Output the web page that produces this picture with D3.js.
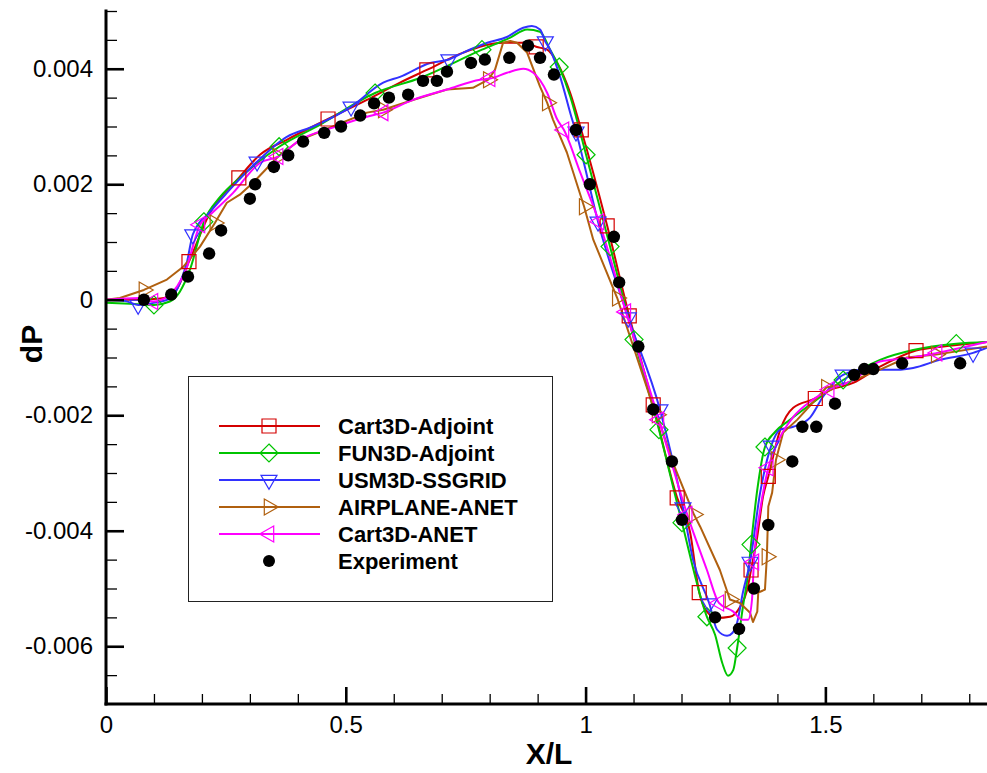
<!DOCTYPE html>
<html>
<head>
<meta charset="utf-8">
<script src="https://cdn.jsdelivr.net/npm/d3@7"></script>
<style>
  body { margin: 0; background: #ffffff; }
  svg { display: block; }
  text { font-family: "Liberation Sans", Arial, Helvetica, sans-serif; }
</style>
</head>
<body>
<svg id="chart" width="987" height="773"></svg>
<script>
// ---- Pressure signature data: dP versus X/L ----

// Wind-tunnel measurements
const expX = [0.079, 0.136, 0.171, 0.215, 0.240, 0.300, 0.311, 0.350, 0.380, 0.411, 0.455, 0.490,
  0.530, 0.559, 0.590, 0.630, 0.661, 0.690, 0.711, 0.761, 0.790, 0.841, 0.880, 0.905, 0.934,
  0.980, 1.009, 1.059, 1.070, 1.110, 1.141, 1.180, 1.201, 1.270, 1.320, 1.351, 1.381, 1.431,
  1.452, 1.481, 1.520, 1.560, 1.581, 1.600, 1.660, 1.781];
const expY = [0.0000, 0.00009, 0.0004, 0.0008, 0.0012, 0.00175, 0.0020, 0.0023, 0.0025, 0.00274,
  0.00289, 0.0030, 0.00319, 0.0034, 0.0035, 0.00355, 0.00379, 0.00379, 0.00395, 0.0041, 0.00416,
  0.00419, 0.0044, 0.00419, 0.0039, 0.00294, 0.0020, 0.00109, 0.0003, -0.00081, -0.0019, -0.0028,
  -0.00381, -0.0055, -0.0057, -0.0050, -0.0039, -0.0028, -0.0022, -0.0022, -0.0018, -0.0013,
  -0.0012, -0.0012, -0.0011, -0.0011];

// Cart3D-Adjoint
const cart3dAdjointLine = [[0, 0], [0.071, 0], [0.113, 0.00002], [0.144, 0.00014], [0.217, 0.00151],
  [0.321, 0.00251], [0.377, 0.00277], [0.544, 0.00346], [0.613, 0.00376], [0.745, 0.00428],
  [0.828, 0.00445], [0.878, 0.00445], [0.920, 0.00433], [0.941, 0.00410], [0.968, 0.00358],
  [1.218, -0.00403], [1.253, -0.00540], [1.274, -0.00551], [1.301, -0.00549], [1.322, -0.00532],
  [1.337, -0.00502], [1.358, -0.00410], [1.370, -0.00341], [1.406, -0.00225], [1.433, -0.00187],
  [1.510, -0.00156], [1.558, -0.00144], [1.614, -0.00116], [1.754, -0.00080], [1.837, -0.00073]];
const cart3dAdjointSymbols = [[0.173, 0.00066], [0.277, 0.00211], [0.463, 0.00313], [0.669, 0.00398],
  [0.897, 0.00438], [0.991, 0.00294], [1.045, 0.00128], [1.091, -0.00028], [1.141, -0.00182],
  [1.191, -0.00343], [1.237, -0.00507], [1.345, -0.00468], [1.381, -0.00306], [1.479, -0.00171],
  [1.689, -0.00088]];

// FUN3D-Adjoint
const fun3dAdjointLine = [[0, -0.00005], [0.050, -0.00007], [0.133, -0.00003], [0.154, 0.00014],
  [0.175, 0.00052], [0.238, 0.00178], [0.279, 0.00211], [0.446, 0.00303], [0.655, 0.00384],
  [0.843, 0.00454], [0.878, 0.00468], [0.905, 0.00464], [0.926, 0.00433], [0.968, 0.00352],
  [0.989, 0.00289], [1.270, -0.00580], [1.285, -0.00629], [1.297, -0.00651], [1.308, -0.00641],
  [1.328, -0.00532], [1.339, -0.00473], [1.358, -0.00329], [1.395, -0.00229], [1.426, -0.00208],
  [1.474, -0.00178], [1.614, -0.00104], [1.683, -0.00087], [1.837, -0.00073]];
const fun3dAdjointSymbols = [[0.100, -0.00009], [0.204, 0.00135], [0.361, 0.00265], [0.561, 0.00358],
  [0.784, 0.00433], [0.945, 0.00403], [1.001, 0.00251], [1.051, 0.00092], [1.101, -0.00069],
  [1.153, -0.00225], [1.201, -0.00386], [1.253, -0.00549], [1.316, -0.00603], [1.345, -0.00424],
  [1.374, -0.00255], [1.537, -0.00139], [1.773, -0.00076]];

// USM3D-SSGRID
const usm3dLine = [[0, 0], [0.040, -0.00002], [0.102, -0.00005], [0.133, 0.00002], [0.154, 0.00029],
  [0.169, 0.00066], [0.217, 0.00152], [0.252, 0.00185], [0.377, 0.00282], [0.432, 0.00300],
  [0.578, 0.00376], [0.613, 0.00386], [0.676, 0.00410], [0.745, 0.00428], [0.795, 0.00445],
  [0.836, 0.00455], [0.870, 0.00471], [0.888, 0.00474], [0.905, 0.00468], [0.926, 0.00433],
  [0.947, 0.00386], [0.972, 0.00312], [0.995, 0.00242], [1.224, -0.00450], [1.274, -0.00571],
  [1.295, -0.00582], [1.306, -0.00577], [1.316, -0.00559], [1.328, -0.00507], [1.364, -0.00334],
  [1.406, -0.00225], [1.433, -0.00220], [1.468, -0.00204], [1.495, -0.00168], [1.579, -0.00121],
  [1.650, -0.00121], [1.683, -0.00118], [1.739, -0.00104], [1.837, -0.00083]];
const usm3dSymbols = [[0.067, -0.00009], [0.181, 0.00113], [0.315, 0.00239], [0.511, 0.00334],
  [0.715, 0.00416], [0.916, 0.00447], [0.980, 0.00291], [1.026, 0.00135], [1.089, -0.00031],
  [1.155, -0.00190], [1.203, -0.00360], [1.258, -0.00526], [1.343, -0.00454], [1.387, -0.00253],
  [1.537, -0.00130], [1.808, -0.00092]];

// AIRPLANE-ANET
const airplaneLine = [[0, 0], [0.029, 0.00003], [0.127, 0.00035], [0.161, 0.00057], [0.196, 0.00092],
  [0.252, 0.00168], [0.279, 0.00182], [0.307, 0.00203], [0.405, 0.00277], [0.473, 0.00300],
  [0.544, 0.00324], [0.640, 0.00346], [0.711, 0.00364], [0.765, 0.00367], [0.811, 0.00398],
  [0.828, 0.00445], [0.843, 0.00448], [0.857, 0.00445], [0.878, 0.00428], [0.905, 0.00369],
  [0.932, 0.00312], [0.961, 0.00255], [1.016, 0.00104], [1.141, -0.00185], [1.182, -0.00282],
  [1.239, -0.00393], [1.280, -0.00468], [1.322, -0.00525], [1.343, -0.00542], [1.349, -0.00558],
  [1.358, -0.00540], [1.360, -0.00507], [1.374, -0.00502], [1.381, -0.00358], [1.389, -0.00334],
  [1.412, -0.00230], [1.441, -0.00208], [1.474, -0.00178], [1.545, -0.00144], [1.614, -0.00121],
  [1.670, -0.00100], [1.837, -0.00081]];
const airplaneSymbols = [[0.079, 0.00017], [0.227, 0.00133], [0.359, 0.00248], [0.578, 0.00329],
  [0.797, 0.00381], [0.920, 0.00341], [0.997, 0.00161], [1.066, 0.00003], [1.149, -0.00199],
  [1.226, -0.00372], [1.301, -0.00519], [1.378, -0.00445], [1.397, -0.00277], [1.502, -0.00152],
  [1.731, -0.00095]];

// Cart3D-ANET
const cart3dAnetLine = [[0, 0], [0.071, 0.00003], [0.127, 0.00005], [0.148, 0.00023], [0.169, 0.00057],
  [0.181, 0.00092], [0.217, 0.00147], [0.265, 0.00185], [0.321, 0.00237], [0.405, 0.00277],
  [0.473, 0.00298], [0.544, 0.00317], [0.640, 0.00346], [0.711, 0.00364], [0.780, 0.00381],
  [0.836, 0.00393], [0.870, 0.00400], [0.891, 0.00393], [0.920, 0.00358], [0.941, 0.00312],
  [0.989, 0.00220], [1.253, -0.00468], [1.308, -0.00540], [1.326, -0.00554], [1.339, -0.00554],
  [1.347, -0.00519], [1.364, -0.00364], [1.406, -0.00237], [1.433, -0.00203], [1.474, -0.00173],
  [1.558, -0.00139], [1.614, -0.00107], [1.683, -0.00100], [1.837, -0.00073]];
const cart3dAnetSymbols = [[0.098, -0.00003], [0.196, 0.00130], [0.359, 0.00248], [0.578, 0.00324],
  [0.801, 0.00383], [0.955, 0.00294], [1.028, 0.00135], [1.084, -0.00021], [1.153, -0.00208],
  [1.212, -0.00372], [1.278, -0.00525], [1.351, -0.00454], [1.381, -0.00291], [1.508, -0.00156],
  [1.733, -0.00092]];

// Axis ticks
const xMajorTicks = [0, 0.5, 1, 1.5];
const xTickLabels = ["0", "0.5", "1", "1.5"];
const yMajorTicks = [-0.006, -0.004, -0.002, 0, 0.002, 0.004];
const yTickLabels = ["-0.006", "-0.004", "-0.002", "0", "0.002", "0.004"];

// ---- Drawing ----
const svg = d3.select("#chart");
const W = 987, H = 773;
const x = d3.scaleLinear().domain([0, 1.837]).range([106, 987]);
const y = d3.scaleLinear().domain([-0.007, 0.005]).range([704, 11]);

svg.append("rect").attr("width", W).attr("height", H).attr("fill", "#fff");

const series = [
  { name: "Cart3D-Adjoint", color: "#d40000", line: cart3dAdjointLine, symbols: cart3dAdjointSymbols, shape: "square", curve: d3.curveMonotoneX },
  { name: "FUN3D-Adjoint", color: "#00c400", line: fun3dAdjointLine, symbols: fun3dAdjointSymbols, shape: "diamond", curve: d3.curveMonotoneX },
  { name: "USM3D-SSGRID", color: "#3232ff", line: usm3dLine, symbols: usm3dSymbols, shape: "triDown", curve: d3.curveMonotoneX },
  { name: "AIRPLANE-ANET", color: "#b0600f", line: airplaneLine, symbols: airplaneSymbols, shape: "triRight", curve: d3.curveLinear },
  { name: "Cart3D-ANET", color: "#ff00ff", line: cart3dAnetLine, symbols: cart3dAnetSymbols, shape: "triLeft", curve: d3.curveMonotoneX }
];

// symbol outlines, centred on the data point
const shapes = {
  square: "M-7,-7H7V7H-7Z",
  diamond: "M0,-9L9,0L0,9L-9,0Z",
  triDown: "M-8,-4.7H8L0,9.3Z",
  triRight: "M-4.7,-8V8L9.3,0Z",
  triLeft: "M4.7,-8V8L-9.3,0Z"
};

svg.append("defs").append("clipPath").attr("id", "plotClip")
  .append("rect").attr("x", x(0)).attr("y", y(0.005) - 2)
  .attr("width", x(1.837) - x(0)).attr("height", y(-0.007) - y(0.005) + 2);

const plot = svg.append("g").attr("clip-path", "url(#plotClip)");

series.forEach(s => {
  const pts = d3.sort(s.line.concat(s.symbols), d => d[0]);
  const gen = d3.line().x(d => x(d[0])).y(d => y(d[1])).curve(s.curve);
  plot.append("path")
    .attr("d", gen(pts))
    .attr("fill", "none")
    .attr("stroke", s.color)
    .attr("stroke-width", 2)
    .attr("stroke-linejoin", "round");
});

series.forEach(s => {
  plot.append("g").selectAll("path")
    .data(s.symbols)
    .join("path")
    .attr("transform", d => `translate(${x(d[0])},${y(d[1])})`)
    .attr("d", shapes[s.shape])
    .attr("fill", "none")
    .attr("stroke", s.color)
    .attr("stroke-width", 1.2);
});

plot.append("g").selectAll("circle")
  .data(d3.zip(expX, expY))
  .join("circle")
  .attr("cx", d => x(d[0]))
  .attr("cy", d => y(d[1]))
  .attr("r", 6.2)
  .attr("fill", "#000");

// ---- Axes ----
const xMinorTicks = d3.range(0, 19).map(i => i / 10).filter(v => !xMajorTicks.includes(v));
const yMinorTicks = d3.range(-13, 11).map(i => i * 0.0005).filter(v => !yMajorTicks.some(t => Math.abs(t - v) < 1e-9));

const axisFont = 24;

const xAxisG = svg.append("g").attr("transform", `translate(0,${y(-0.007)})`);
xAxisG.append("g")
  .call(d3.axisBottom(x).tickValues(xMinorTicks).tickFormat("").tickSizeInner(-10).tickSizeOuter(0))
  .call(g => g.select(".domain").remove())
  .call(g => g.selectAll("line").attr("stroke", "#000").attr("stroke-width", 1.3));
xAxisG.append("g")
  .call(d3.axisBottom(x).tickValues(xMajorTicks).tickFormat((d, i) => xTickLabels[i])
    .tickSizeInner(-17).tickSizeOuter(0).tickPadding(12))
  .call(g => g.select(".domain").remove())
  .call(g => g.selectAll("line").attr("stroke", "#000").attr("stroke-width", 2.6))
  .call(g => g.selectAll("text").attr("font-size", axisFont).attr("fill", "#000")
    .attr("font-family", "'Liberation Sans', Arial, sans-serif"));

const yAxisG = svg.append("g").attr("transform", `translate(${x(0)},0)`);
yAxisG.append("g")
  .call(d3.axisLeft(y).tickValues(yMinorTicks).tickFormat("").tickSizeInner(-11).tickSizeOuter(0))
  .call(g => g.select(".domain").remove())
  .call(g => g.selectAll("line").attr("stroke", "#000").attr("stroke-width", 1.3));
yAxisG.append("g")
  .call(d3.axisLeft(y).tickValues(yMajorTicks).tickFormat((d, i) => yTickLabels[i])
    .tickSizeInner(-18).tickSizeOuter(0).tickPadding(13))
  .call(g => g.select(".domain").remove())
  .call(g => g.selectAll("line").attr("stroke", "#000").attr("stroke-width", 2.6))
  .call(g => g.selectAll("text").attr("font-size", axisFont).attr("fill", "#000")
    .attr("font-family", "'Liberation Sans', Arial, sans-serif"));

// axis lines
svg.append("line").attr("x1", x(0)).attr("x2", x(0)).attr("y1", y(0.005) - 1.5).attr("y2", y(-0.007) + 1.5)
  .attr("stroke", "#000").attr("stroke-width", 3);
svg.append("line").attr("x1", x(0) - 1.5).attr("x2", W).attr("y1", y(-0.007)).attr("y2", y(-0.007))
  .attr("stroke", "#000").attr("stroke-width", 3);

// axis titles
svg.append("text")
  .attr("x", 549).attr("y", 764)
  .attr("text-anchor", "middle")
  .attr("font-size", 30).attr("font-weight", "bold")
  .text("X/L");
svg.append("text")
  .attr("transform", "translate(42,344) rotate(-90)")
  .attr("text-anchor", "middle")
  .attr("font-size", 30).attr("font-weight", "bold")
  .text("dP");

// ---- Legend ----
const legend = svg.append("g");
legend.append("rect")
  .attr("x", 188.5).attr("y", 376.5).attr("width", 364).attr("height", 225)
  .attr("fill", "#fff").attr("stroke", "#222").attr("stroke-width", 1);

const rowY0 = 426, rowStep = 27;
series.forEach((s, i) => {
  const ry = rowY0 + i * rowStep;
  legend.append("line").attr("x1", 219).attr("x2", 320).attr("y1", ry).attr("y2", ry)
    .attr("stroke", s.color).attr("stroke-width", 2);
  legend.append("path").attr("transform", `translate(269,${ry})`).attr("d", shapes[s.shape])
    .attr("fill", "none").attr("stroke", s.color).attr("stroke-width", 1.2);
  legend.append("text").attr("x", 338).attr("y", ry).attr("dy", "0.36em")
    .attr("font-size", 22).attr("font-weight", "bold").text(s.name);
});
const expRow = rowY0 + series.length * rowStep;
legend.append("circle").attr("cx", 269).attr("cy", expRow).attr("r", 6).attr("fill", "#000");
legend.append("text").attr("x", 338).attr("y", expRow).attr("dy", "0.36em")
  .attr("font-size", 22).attr("font-weight", "bold").text("Experiment");
</script>
</body>
</html>
